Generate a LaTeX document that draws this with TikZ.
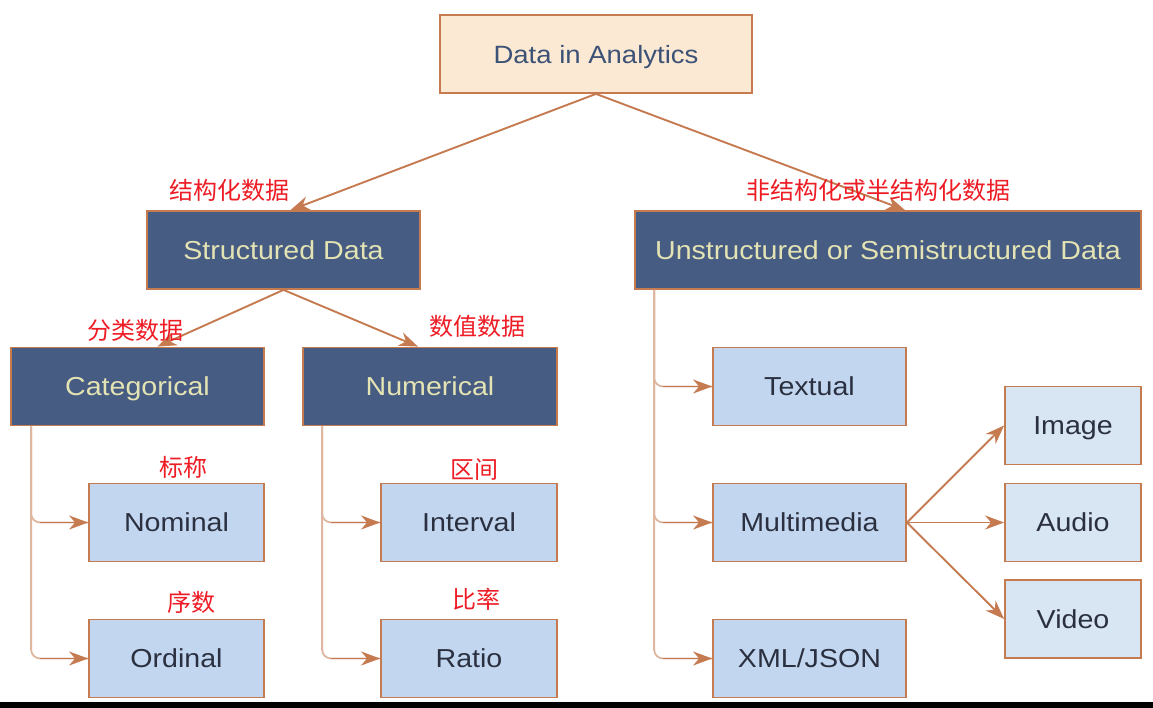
\documentclass[tikz,border=0pt]{standalone}
\usepackage{fontspec}
\setmainfont{Liberation Sans}[FakeStretch=1.1]
\newfontfamily\cjk{Noto Sans CJK SC}
\usetikzlibrary{arrows.meta,calc}
\definecolor{edge}{HTML}{C57A50}
\definecolor{peach}{HTML}{FCE9D3}
\definecolor{navy}{HTML}{465C82}
\definecolor{pale}{HTML}{E4E3B4}
\definecolor{lblue}{HTML}{C2D7EF}
\definecolor{xblue}{HTML}{D7E6F2}
\definecolor{ink}{HTML}{2B3040}
\definecolor{topink}{HTML}{3C5276}
\definecolor{cnred}{HTML}{EE1C25}
\tikzset{
  boxbase/.style={draw=edge, line width=1.8pt, inner sep=0pt, text depth=0pt, font=\fontsize{26}{30}\selectfont},
  topbox/.style={boxbase, fill=peach, text=topink, font=\fontsize{25}{30}\selectfont},
  darkbox/.style={boxbase, fill=navy, text=pale, minimum height=78pt},
  leafbox/.style={boxbase, fill=lblue, text=ink, minimum height=78pt},
  mediabox/.style={boxbase, fill=xblue, text=ink, minimum width=136pt, minimum height=78pt},
  arr/.style={draw=edge, line width=1.9pt, -{Stealth[length=19pt,width=14pt,inset=6pt]}},
  trunkline/.style={draw=edge!55, line width=1.8pt, rounded corners=9pt},
  cnlab/.style={text=cnred, font=\cjk\fontsize{24}{27}\selectfont, inner sep=0pt}
}
\begin{document}
\begin{tikzpicture}[x=1pt,y=-1pt]
\useasboundingbox (0,0) rectangle (1153,708);
\fill[white] (0,0) rectangle (1153,708);
\fill[black] (0,702) rectangle (1153,708);

\node[topbox, minimum width=312pt, minimum height=78pt] (top) at (596,54) {Data in Analytics};

\node[darkbox, minimum width=273pt] (sd) at (283.5,250) {Structured Data};
\node[darkbox, minimum width=506pt] (uns) at (888,250) {Unstructured or Semistructured Data};

\node[darkbox, minimum width=253pt] (cat) at (137.5,386.5) {Categorical};
\node[darkbox, minimum width=254pt] (num) at (430,386.5) {Numerical};

\node[leafbox, minimum width=175pt] (nom) at (176.5,522.5) {Nominal};
\node[leafbox, minimum width=175pt] (ord) at (176.5,658.5) {Ordinal};
\node[leafbox, minimum width=176pt] (int) at (469,522.5) {Interval};
\node[leafbox, minimum width=176pt] (rat) at (469,658.5) {Ratio};

\node[leafbox, minimum width=193pt] (txt) at (809.5,386.5) {Textual};
\node[leafbox, minimum width=193pt] (mm) at (809.5,522.5) {Multimedia};
\node[leafbox, minimum width=193pt] (xml) at (809.5,658.5) {XML/JSON};

\node[mediabox] (img) at (1073,425.5) {Image};
\node[mediabox] (aud) at (1073,522.5) {Audio};
\node[mediabox] (vid) at (1073,619) {Video};

% trunk start points
\coordinate (ct) at ([xshift=21pt]cat.south west);
\coordinate (nt) at ([xshift=20pt]num.south west);
\coordinate (ut) at ([xshift=20pt]uns.south west);

% connectors
\draw[arr] (top.south) -- ([xshift=7pt]sd.north);
\draw[arr] (top.south) -- ([xshift=17pt]uns.north);
\draw[arr] (sd.south) -- ([xshift=20pt]cat.north);
\draw[arr] (sd.south) -- ([xshift=-12pt]num.north);

\draw[trunkline] (ct) |- (nom.west);
\draw[trunkline] (ct) |- (ord.west);
\draw[trunkline] (nt) |- (int.west);
\draw[trunkline] (nt) |- (rat.west);
\draw[trunkline] (ut) |- (txt.west);
\draw[trunkline] (ut) |- (mm.west);
\draw[trunkline] (ut) |- (xml.west);

\draw[arr] ([xshift=9pt]ct |- nom.west) -- (nom.west);
\draw[arr] ([xshift=9pt]ct |- ord.west) -- (ord.west);
\draw[arr] ([xshift=9pt]nt |- int.west) -- (int.west);
\draw[arr] ([xshift=9pt]nt |- rat.west) -- (rat.west);
\draw[arr] ([xshift=9pt]ut |- txt.west) -- (txt.west);
\draw[arr] ([xshift=9pt]ut |- mm.west) -- (mm.west);
\draw[arr] ([xshift=9pt]ut |- xml.west) -- (xml.west);

\draw[arr] (mm.east) -- (img.west);
\draw[arr] (mm.east) -- (aud.west);
\draw[arr] (mm.east) -- (vid.west);

% labels
\node[cnlab] (l1) at (229.5,190) {结构化数据};
\node[cnlab] (l2) at (878,190) {非结构化或半结构化数据};
\node[cnlab] (l3) at (135.5,330) {分类数据};
\node[cnlab] (l4) at (477,326) {数值数据};
\node[cnlab] (l5) at (183,467) {标称};
\node[cnlab] (l6) at (191,602) {序数};
\node[cnlab] (l7) at (474,470) {区间};
\node[cnlab] (l8) at (476,599) {比率};
\end{tikzpicture}
\end{document}
